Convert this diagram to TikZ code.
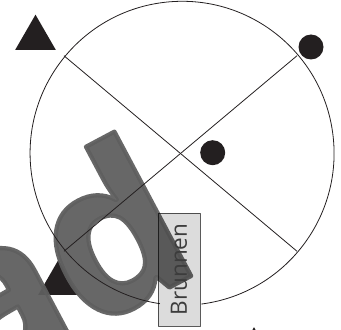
\documentclass[tikz,border=0pt]{standalone}
\usepackage{fontspec}
\setsansfont{Open Sans}
\newfontfamily\zeichenfont[FakeBold=2]{Open Sans}
\usepackage{tikz}
\usetikzlibrary{shapes.geometric}
\definecolor{plan-ink}{HTML}{231F20}
\definecolor{plan-mark}{HTML}{5E5E5E}
\definecolor{plan-box}{HTML}{DCDCDC}
\definecolor{plan-edge}{HTML}{5A5A5A}
\definecolor{plan-text}{HTML}{3C3C3C}

\begin{document}
\begin{tikzpicture}[x=1pt, y=1pt, line cap=round, line join=round,
    marktri/.style={regular polygon, regular polygon sides=3, minimum size=47pt,
      inner sep=0pt, outer sep=0pt, fill=plan-ink},
    markdot/.style={circle, minimum size=25pt, inner sep=0pt, fill=plan-ink},
    brunnenbox/.style={rectangle, rotate=90, minimum width=113pt, minimum height=42pt,
      inner sep=0pt, fill=plan-box, blend mode=multiply, draw=plan-edge, line width=0.8pt,
      text=plan-text, font=\sffamily\fontsize{22.5}{22.5}\selectfont}]
  \useasboundingbox (0,0) rectangle (341,330);
  \clip (0,0) rectangle (341,330);
  % dreiecke
  \node[marktri] (dreieckA) at (35.5,291.8) {};
  \node[marktri] (dreieckB) at (58.5,46.8) {};
  \node[marktri] (dreieckC) at (254,-20.7) {};
  % schriftzug
  \node[anchor=base east, rotate=28, inner sep=0pt, text=plan-mark, opacity=0.94,
    font=\zeichenfont\bfseries\fontsize{215}{215}\selectfont] (zeichen) at (206,62) {ad};
  % kreis und achsen
  \node[circle, minimum size=304pt, inner sep=0pt, outer sep=0pt] (platz) at (180.5,176.5) {};
  \draw[plan-ink, line width=0.8pt] (platz.-82.6) arc[start angle=-82.6, end angle=261.5, radius=152pt];
  \draw[plan-ink, line width=0.8pt] (platz.140) -- (platz.-40);
  \draw[plan-ink, line width=0.8pt] (platz.40) -- (platz.-140);
  % punkte
  \node[markdot] (punktA) at (311,283) {};
  \node[markdot] (punktB) at (212.7,177.3) {};
  % brunnen
  \node[brunnenbox] (brunnen) at (179,60.5) {};
  \node[rotate=90, text=plan-text, inner sep=0pt,
    font=\sffamily\fontsize{22.5}{22.5}\selectfont] (brunnentext) at (brunnen.center) {Brunnen};
\end{tikzpicture}
\end{document}
